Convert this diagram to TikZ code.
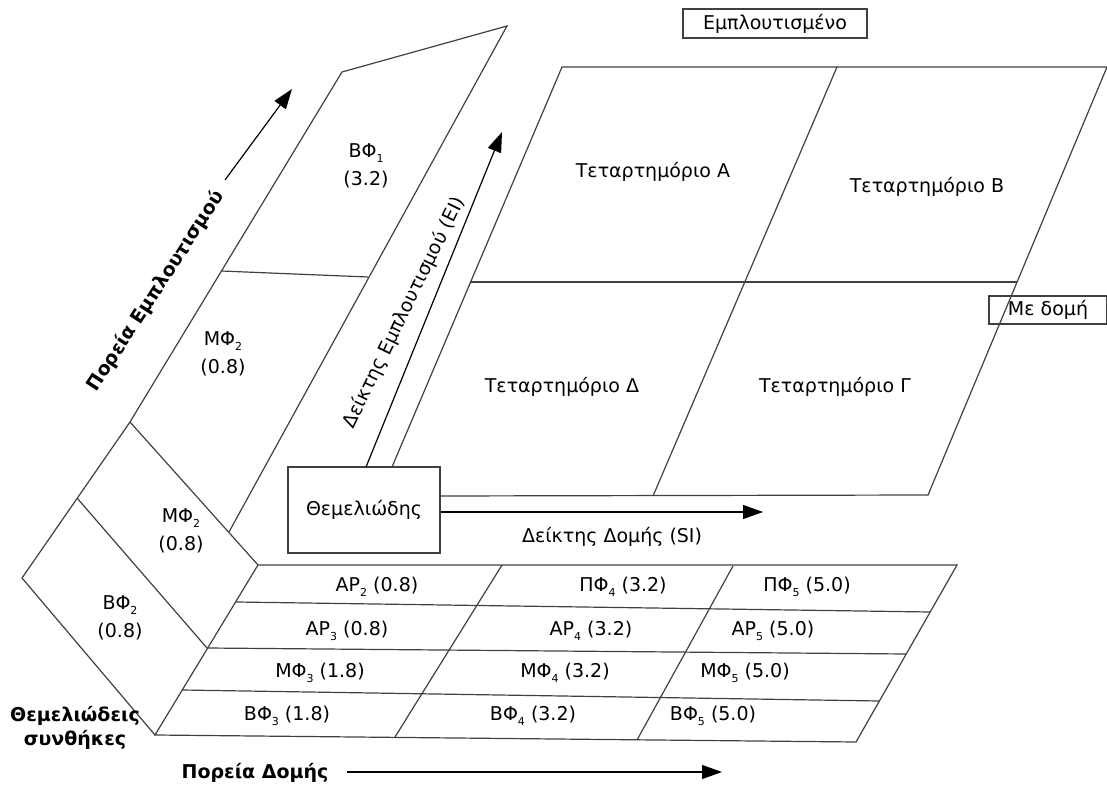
\documentclass[tikz,border=0pt]{standalone}
\usepackage{fontspec}
\setmainfont{DejaVu Sans}
\usetikzlibrary{arrows.meta}

\newcommand{\lowsub}[1]{\raisebox{-2.6pt}{\fontsize{5.5}{6}\selectfont #1}}

\tikzset{
    edge/.style={draw=black!75, line width=0.6pt},
    lbl/.style={font=\fontsize{9.5}{14}\selectfont, align=center, inner sep=1pt},
    boldlbl/.style={font=\fontsize{9.5}{12}\selectfont\bfseries, align=center, inner sep=1pt},
    tagbox/.style={lbl, draw=black!75, line width=0.6pt},
    bigarrow/.style={draw=black, line width=0.6pt, -{Triangle[length=10pt,width=7pt]}}
}

\begin{document}
\begin{tikzpicture}[x=0.5pt, y=-0.5pt]
    \useasboundingbox (0,0) rectangle (1107,785);

    % Left panel
    \coordinate (p1) at (342,72);
    \coordinate (p2) at (507,26);
    \coordinate (p3) at (229,532);
    \coordinate (l1) at (130,422);
    \coordinate (l2) at (22,578);
    \coordinate (l3) at (155,735);
    \coordinate (m1) at (77,498);
    \coordinate (m2) at (207,648);
    \draw[edge] (p3) -- (p2) -- (p1) -- (l1) -- (l2) -- (l3);
    \draw[edge] (l1) -- (258,565);
    \draw[edge] (m1) -- (m2);
    \draw[edge] (221,271) -- (368,277);

    % Table
    \coordinate (t1) at (258,565);
    \coordinate (t2) at (957,565);
    \coordinate (t3) at (856,742);
    \draw[edge] (t1) -- (t2) -- (t3) -- (l3) -- cycle;
    \draw[edge] (236,602) -- (930,612);
    \draw[edge] (207,648) -- (906,654);
    \draw[edge] (182,690) -- (879,701);
    \draw[edge] (502,565) -- (395,737);
    \draw[edge] (733,566) -- (637,740);

    % Quadrants
    \node[tagbox, minimum width=76pt, minimum height=43pt] (base) at (364,510) {Θεμελιώδης};
    \coordinate (q1) at (562,67);
    \coordinate (q2) at (1107,67);
    \coordinate (q3) at (928,495);
    \draw[edge] (392,467) -- (q1) -- (q2) -- (q3) -- ([yshift=7pt]base.east);
    \draw[edge] (470,282) -- (1017,282);
    \draw[edge] (837,67) -- (653,496);

    % Labels
    \node[lbl] (bf1) at (366,166) {ΒΦ\lowsub{1}\\(3.2)};
    \node[lbl] (mf2a) at (223,354) {ΜΦ\lowsub{2}\\(0.8)};
    \node[lbl] (mf2b) at (181,531) {ΜΦ\lowsub{2}\\(0.8)};
    \node[lbl] (bf2) at (120,618) {ΒΦ\lowsub{2}\\(0.8)};

    \node[lbl] (ar2) at (377,587) {ΑΡ\lowsub{2} (0.8)};
    \node[lbl] (pf4) at (623,587) {ΠΦ\lowsub{4} (3.2)};
    \node[lbl] (pf5) at (807,587) {ΠΦ\lowsub{5} (5.0)};
    \node[lbl] (ar3) at (347,631) {ΑΡ\lowsub{3} (0.8)};
    \node[lbl] (ar4) at (591,631) {ΑΡ\lowsub{4} (3.2)};
    \node[lbl] (ar5) at (773,631) {ΑΡ\lowsub{5} (5.0)};
    \node[lbl] (mf3) at (320,673) {ΜΦ\lowsub{3} (1.8)};
    \node[lbl] (mf4) at (565,673) {ΜΦ\lowsub{4} (3.2)};
    \node[lbl] (mf5) at (745,673) {ΜΦ\lowsub{5} (5.0)};
    \node[lbl] (bf3) at (287,716) {ΒΦ\lowsub{3} (1.8)};
    \node[lbl] (bf4) at (533,716) {ΒΦ\lowsub{4} (3.2)};
    \node[lbl] (bf5) at (713,716) {ΒΦ\lowsub{5} (5.0)};

    \node[lbl] (qa) at (653,172) {Τεταρτημόριο Α};
    \node[lbl] (qb) at (927,187) {Τεταρτημόριο Β};
    \node[lbl] (qd) at (562,387) {Τεταρτημόριο Δ};
    \node[lbl] (qg) at (835,387) {Τεταρτημόριο Γ};

    \node[tagbox, minimum width=92pt, minimum height=14.5pt] (rich) at (775,23.5) {Εμπλουτισμένο};
    \node[tagbox, minimum width=59pt, minimum height=14pt] (struct) at (1048,310) {Με δομή};

    \node[lbl] (silbl) at (612,537) {Δείκτης Δομής (SI)};
    \node[lbl, rotate=64, inner sep=0pt] (eilbl) at (404,313) {Δείκτης Εμπλουτισμού (EI)};
    \node[boldlbl, rotate=57, inner sep=0pt] (pathrich) at (156,291) {Πορεία Εμπλουτισμού};
    \node[boldlbl] (pathstruct) at (255,773) {Πορεία Δομής};
    \node[boldlbl] (basic) at (75,728) {Θεμελιώδεις\\συνθήκες};

    % Arrows
    \coordinate (eifoot) at (366,467);
    \coordinate (eitip) at (502,132);
    \coordinate (sitip) at (763,512);
    \coordinate (richfoot) at (225,180);
    \coordinate (richtip) at (292,89);
    \coordinate (structfoot) at (347,772);
    \coordinate (structtip) at (722,772);
    \draw[bigarrow] (eifoot) -- (eitip);
    \draw[bigarrow] ([yshift=-1pt]base.east) -- (sitip);
    \draw[bigarrow] (richfoot) -- (richtip);
    \draw[bigarrow] (structfoot) -- (structtip);
\end{tikzpicture}
\end{document}
